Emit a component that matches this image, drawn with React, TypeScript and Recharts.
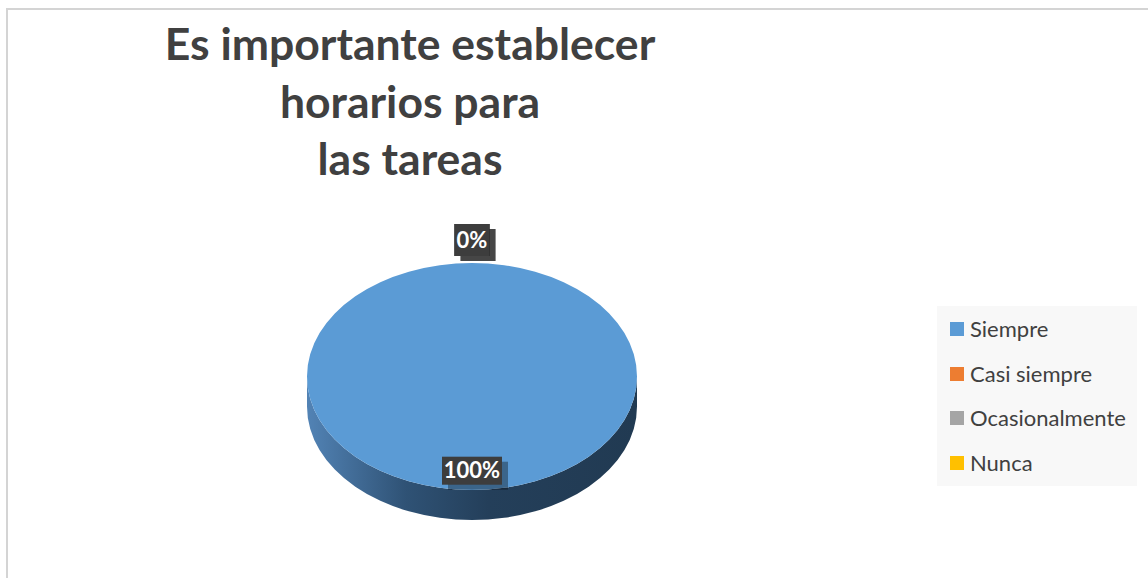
import React from 'react'
import { PieChart, Pie, Legend } from 'recharts'

const categories = ['Siempre', 'Casi siempre', 'Ocasionalmente', 'Nunca']
const values = [100, 0, 0, 0]
const colors = ['#5B9BD5', '#ED7D31', '#A5A5A5', '#FFC000']
const titleLines = ['Es importante establecer', 'horarios para', 'las tareas']

const RY_RATIO = 113.5 / 165
const DEPTH = 30
const RAD = Math.PI / 180

const data = categories.map((name, i) => ({ name, value: values[i], fill: colors[i] }))

function ellipsePoint(cx: number, cy: number, rx: number, ry: number, angle: number) {
  return [cx + Math.cos(-angle * RAD) * rx, cy + Math.sin(-angle * RAD) * ry]
}

// elliptical sector with a 3D wall on the front half
function Sector3D(props: any) {
  const { cx, cy, outerRadius, startAngle, endAngle, fill } = props
  const span = Math.abs(endAngle - startAngle)
  if (span < 0.01) return null
  const rx = outerRadius
  const ry = outerRadius * RY_RATIO
  let top: string
  if (span >= 359.99) {
    top = `M ${cx - rx} ${cy} A ${rx} ${ry} 0 1 0 ${cx + rx} ${cy} A ${rx} ${ry} 0 1 0 ${cx - rx} ${cy} Z`
  } else {
    const [x1, y1] = ellipsePoint(cx, cy, rx, ry, startAngle)
    const [x2, y2] = ellipsePoint(cx, cy, rx, ry, endAngle)
    const large = span > 180 ? 1 : 0
    const sweep = startAngle > endAngle ? 1 : 0
    top = `M ${cx} ${cy} L ${x1} ${y1} A ${rx} ${ry} 0 ${large} ${sweep} ${x2} ${y2} Z`
  }
  const wall = `M ${cx - rx} ${cy} A ${rx} ${ry} 0 0 0 ${cx + rx} ${cy} L ${cx + rx} ${cy + DEPTH} A ${rx} ${ry} 0 0 1 ${cx - rx} ${cy + DEPTH} Z`
  return (
    <g>
      <defs>
        <linearGradient id="wallGrad" x1="0" y1="0" x2="1" y2="0">
          <stop offset="0%" stopColor="#5283b5" />
          <stop offset="30%" stopColor="#2f5275" />
          <stop offset="55%" stopColor="#243f5a" />
          <stop offset="100%" stopColor="#213a52" />
        </linearGradient>
      </defs>
      {span >= 359.99 && <path d={wall} fill="url(#wallGrad)" />}
      <path d={top} fill={fill} />
    </g>
  )
}

function renderLabel(props: any) {
  const { cx, cy, midAngle, outerRadius, percent, value } = props
  const text = `${Math.round(percent * 100)}%`
  let x: number
  let y: number
  let h = 28
  if (value > 0) {
    ;[x, y] = ellipsePoint(cx, cy, outerRadius * 0.83, outerRadius * RY_RATIO * 0.83, midAngle)
  } else {
    ;[x, y] = ellipsePoint(cx, cy, outerRadius, outerRadius * RY_RATIO + 23, midAngle)
    h = 32
  }
  const w = text.length * 12.5 + 10
  return (
    <g>
      <rect x={x - w / 2 + 6} y={y - h / 2 + 5} width={w} height={h} fill="#000" fillOpacity={0.35} />
      <rect x={x - w / 2} y={y - h / 2} width={w} height={h} fill="#3d3d3d" />
      <text x={x} y={y} dy={7.5} textAnchor="middle" fill="#fff" fontSize={22} fontWeight="bold" fontFamily="Lato">
        {text}
      </text>
    </g>
  )
}

function LegendBox() {
  return (
    <div style={{ background: '#f8f8f8', width: 200, height: 180, paddingTop: 1, boxSizing: 'border-box' }}>
      {data.map((d) => (
        <div key={d.name} style={{ display: 'flex', alignItems: 'center', height: 44.5, paddingLeft: 13 }}>
          <span style={{ width: 14, height: 14, background: d.fill, marginRight: 6, display: 'inline-block' }} />
          <span style={{ fontFamily: 'Lato', fontSize: 22, color: '#404040', lineHeight: '22px' }}>{d.name}</span>
        </div>
      ))}
    </div>
  )
}

export default function App() {
  return (
    <div style={{ position: 'fixed', left: 0, top: 0, width: 1148, height: 578, overflow: 'hidden', background: '#fff' }}>
      <div style={{ position: 'absolute', left: 6, top: 8, width: 1170, height: 600, border: '2px solid #d4d4d4' }} />
      <div
        style={{
          position: 'absolute',
          left: 110,
          top: 14,
          width: 600,
          textAlign: 'center',
          fontFamily: 'Lato',
          fontWeight: 'bold',
          fontSize: 44.5,
          lineHeight: '57.5px',
          color: '#404040',
        }}
      >
        {titleLines.map((l) => (
          <div key={l}>{l}</div>
        ))}
      </div>
      <div style={{ position: 'absolute', left: 0, top: 0 }}>
        <PieChart width={1148} height={578}>
          <Pie
            data={data}
            dataKey="value"
            nameKey="name"
            cx={467}
            cy={371.5}
            outerRadius={165}
            startAngle={90}
            endAngle={-270}
            stroke="none"
            labelLine={false}
            label={renderLabel}
            shape={Sector3D}
            isAnimationActive={false}
          />
          <Legend
            content={<LegendBox />}
            wrapperStyle={{ position: 'absolute', left: 937, top: 306, width: 200, height: 180 }}
          />
        </PieChart>
      </div>
    </div>
  )
}
